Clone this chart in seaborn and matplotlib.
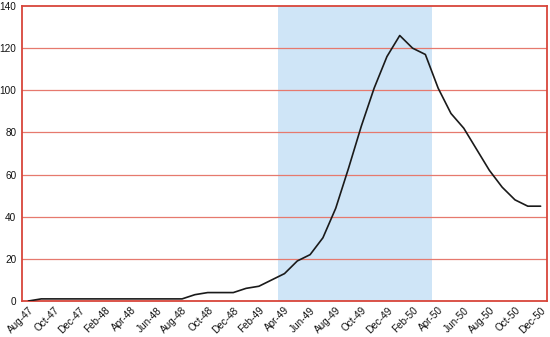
import matplotlib
matplotlib.use("Agg")
import matplotlib.pyplot as plt
import seaborn as sns
import pandas as pd
import numpy as np

months = ["Aug-47", "Sep-47", "Oct-47", "Nov-47", "Dec-47", "Jan-48", "Feb-48", "Mar-48",
          "Apr-48", "May-48", "Jun-48", "Jul-48", "Aug-48", "Sep-48", "Oct-48", "Nov-48",
          "Dec-48", "Jan-49", "Feb-49", "Mar-49", "Apr-49", "May-49", "Jun-49", "Jul-49",
          "Aug-49", "Sep-49", "Oct-49", "Nov-49", "Dec-49", "Jan-50", "Feb-50", "Mar-50",
          "Apr-50", "May-50", "Jun-50", "Jul-50", "Aug-50", "Sep-50", "Oct-50", "Nov-50",
          "Dec-50"]
values = [0, 1, 1, 1, 1, 1, 1, 1, 1, 1, 1, 1, 1, 3, 4, 4, 4, 6, 7, 10,
          13, 19, 22, 30, 44, 63, 83, 101, 116, 126, 120, 117,
          101, 89, 82, 72, 62, 54, 48, 45, 45]
shade_start = "Apr-49"
shade_end = "Mar-50"
y_ticks = [0, 20, 40, 60, 80, 100, 120, 140]

sns.set_style("white")
plt.rcParams['font.family'] = ['Liberation Sans', 'DejaVu Sans']

df = pd.DataFrame({"idx": np.arange(len(months)), "month": months, "value": values})

fig = plt.figure(figsize=(5.5, 3.37), dpi=100)
ax = fig.add_axes([22/550, 1-301/337, (547-22)/550, (301-6)/337])

red = "#d8453a"
grid_red = "#e6796e"

s0 = months.index(shade_start) - 0.5
s1 = months.index(shade_end) + 0.5
ax.axvspan(s0, s1, color="#cfe5f7", zorder=0, lw=0)

for yv in y_ticks[1:-1]:
    ax.axhline(yv, color=grid_red, lw=0.9, zorder=1)

sns.lineplot(data=df, x="idx", y="value", ax=ax, color="#1a1a1a", lw=1.2, zorder=3)

ax.set_xlim(-0.5, len(months) - 0.5)
ax.set_ylim(0, 140)
ax.set_yticks(y_ticks)
ax.set_yticklabels([str(v) for v in y_ticks], fontsize=7.2)

lab_pos = list(range(0, len(months), 2))
ax.set_xticks(lab_pos)
ax.set_xticklabels([months[i] for i in lab_pos], rotation=45, ha="right",
                   rotation_mode="anchor", fontsize=7.2)
ax.tick_params(axis="x", which="major", length=0, pad=3, labelcolor="#111111")
ax.set_xticks(np.arange(-0.5, len(months), 2), minor=True)
ax.tick_params(axis="x", which="minor", length=3, color=red, width=0.8, direction="out")
ax.tick_params(axis="y", length=0, pad=4, labelcolor="#111111")

for sp in ax.spines.values():
    sp.set_color(red)
    sp.set_linewidth(1.3)
    sp.set_visible(True)

ax.set_xlabel("")
ax.set_ylabel("")

fig.savefig("out.png", dpi=100)
